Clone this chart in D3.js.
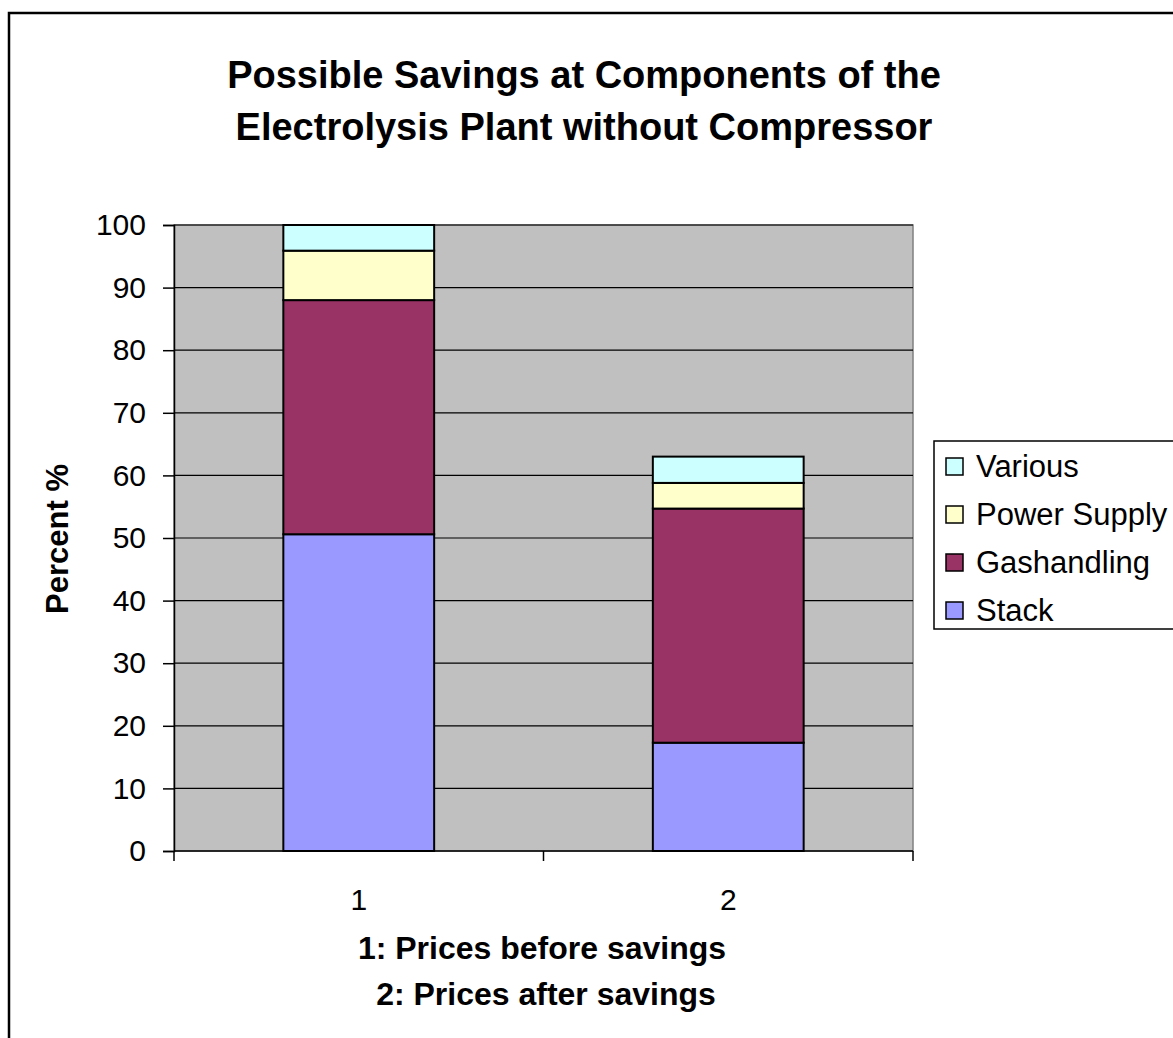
<!DOCTYPE html>
<html>
<head>
<meta charset="utf-8">
<script src="https://cdn.jsdelivr.net/npm/d3@7"></script>
<style>
  body { margin: 0; background: #fff; }
  svg { display: block; font-family: "Liberation Sans", Arial, sans-serif; }
</style>
</head>
<body>
<svg id="chart" width="1173" height="1038"></svg>
<script>
// chart data
const categories = ["1", "2"];
const seriesNames = ["Stack", "Gashandling", "Power Supply", "Various"];
const stackValues = [50.6, 17.3];
const gashandlingValues = [37.4, 37.4];
const powerSupplyValues = [7.9, 4.1];
const variousValues = [4.1, 4.2];
const yTicks = [0, 10, 20, 30, 40, 50, 60, 70, 80, 90, 100];

const colors = {
  "Stack": "#9999FF",
  "Gashandling": "#993366",
  "Power Supply": "#FFFFCC",
  "Various": "#CCFFFF"
};

const table = categories.map((c, i) => ({
  cat: c,
  "Stack": stackValues[i],
  "Gashandling": gashandlingValues[i],
  "Power Supply": powerSupplyValues[i],
  "Various": variousValues[i]
}));

const svg = d3.select("#chart");

// outer frame
svg.append("rect")
  .attr("x", 9).attr("y", 13)
  .attr("width", 1200).attr("height", 1100)
  .attr("fill", "#fff")
  .attr("stroke", "#000")
  .attr("stroke-width", 2.5);

const plot = {left: 174, top: 225, right: 913, bottom: 851};

const x = d3.scaleBand()
  .domain(categories)
  .range([plot.left, plot.right])
  .paddingInner(0)
  .paddingOuter(0);

const y = d3.scaleLinear()
  .domain([0, 100])
  .range([plot.bottom, plot.top]);

// plot background
svg.append("rect")
  .attr("x", plot.left).attr("y", plot.top)
  .attr("width", plot.right - plot.left)
  .attr("height", plot.bottom - plot.top)
  .attr("fill", "#C0C0C0")
  .attr("stroke", "#808080")
  .attr("stroke-width", 1.5);

// gridlines
svg.append("g")
  .selectAll("line")
  .data(yTicks.filter(d => d > 0))
  .enter().append("line")
  .attr("x1", plot.left).attr("x2", plot.right)
  .attr("y1", d => y(d)).attr("y2", d => y(d))
  .attr("stroke", "#000")
  .attr("stroke-width", 1.2);

// stacked bars
const stack = d3.stack().keys(seriesNames);
const layers = stack(table);
const barW = x.bandwidth() / 2.45;

svg.append("g")
  .selectAll("g")
  .data(layers)
  .enter().append("g")
  .attr("fill", d => colors[d.key])
  .selectAll("rect")
  .data(d => d)
  .enter().append("rect")
  .attr("x", d => x(d.data.cat) + x.bandwidth() / 2 - barW / 2)
  .attr("y", d => y(d[1]))
  .attr("width", barW)
  .attr("height", d => y(d[0]) - y(d[1]))
  .attr("stroke", "#000")
  .attr("stroke-width", 2);

// y axis
const yAxis = svg.append("g")
  .attr("transform", "translate(" + plot.left + ",0)")
  .call(d3.axisLeft(y).tickValues(yTicks).tickSize(11).tickPadding(17));
yAxis.select(".domain").attr("stroke", "#000").attr("stroke-width", 1.5);
yAxis.selectAll(".tick line").attr("stroke", "#000").attr("stroke-width", 1.5);
yAxis.selectAll("text")
  .attr("font-size", "30px")
  .attr("fill", "#000")
  .attr("font-family", "Liberation Sans, Arial, sans-serif");

// x axis
const xEdges = d3.scaleLinear().domain([0, categories.length]).range([plot.left, plot.right]);
const xAxis = svg.append("g")
  .attr("transform", "translate(0," + plot.bottom + ")");
xAxis.append("line")
  .attr("x1", plot.left).attr("x2", plot.right)
  .attr("stroke", "#000").attr("stroke-width", 1.5);
xAxis.selectAll(".edge")
  .data(d3.range(categories.length + 1))
  .enter().append("line")
  .attr("class", "edge")
  .attr("x1", d => xEdges(d)).attr("x2", d => xEdges(d))
  .attr("y1", 0).attr("y2", 10)
  .attr("stroke", "#000").attr("stroke-width", 1.5);
xAxis.selectAll(".lbl")
  .data(categories)
  .enter().append("text")
  .attr("class", "lbl")
  .attr("x", d => x(d) + x.bandwidth() / 2)
  .attr("y", 59)
  .attr("text-anchor", "middle")
  .attr("font-size", "30px")
  .text(d => d);

// titles
svg.append("text")
  .attr("x", 584).attr("y", 88)
  .attr("text-anchor", "middle")
  .attr("font-size", "38px").attr("font-weight", "bold")
  .text("Possible Savings at Components of the");
svg.append("text")
  .attr("x", 584).attr("y", 140)
  .attr("text-anchor", "middle")
  .attr("font-size", "38px").attr("font-weight", "bold")
  .text("Electrolysis Plant without Compressor");

svg.append("text")
  .attr("transform", "translate(68,539) rotate(-90)")
  .attr("text-anchor", "middle")
  .attr("font-size", "31px").attr("font-weight", "bold")
  .text("Percent %");

svg.append("text")
  .attr("x", 542).attr("y", 959)
  .attr("text-anchor", "middle")
  .attr("font-size", "32px").attr("font-weight", "bold")
  .text("1: Prices before savings");
svg.append("text")
  .attr("x", 546).attr("y", 1005)
  .attr("text-anchor", "middle")
  .attr("font-size", "32px").attr("font-weight", "bold")
  .text("2: Prices after savings");

// legend
const legend = svg.append("g");
legend.append("rect")
  .attr("x", 934).attr("y", 441)
  .attr("width", 260).attr("height", 188)
  .attr("fill", "#fff")
  .attr("stroke", "#000").attr("stroke-width", 1.5);

const legendItems = seriesNames.slice().reverse();
const ly = d3.scalePoint().domain(legendItems).range([466, 610]);
const li = legend.selectAll(".item")
  .data(legendItems)
  .enter().append("g")
  .attr("class", "item")
  .attr("transform", d => "translate(946," + ly(d) + ")");
li.append("rect")
  .attr("x", 0).attr("y", -8)
  .attr("width", 17).attr("height", 17)
  .attr("fill", d => colors[d])
  .attr("stroke", "#000").attr("stroke-width", 1.5);
li.append("text")
  .attr("x", 30).attr("y", 11)
  .attr("font-size", "31px")
  .text(d => d);
</script>
</body>
</html>
